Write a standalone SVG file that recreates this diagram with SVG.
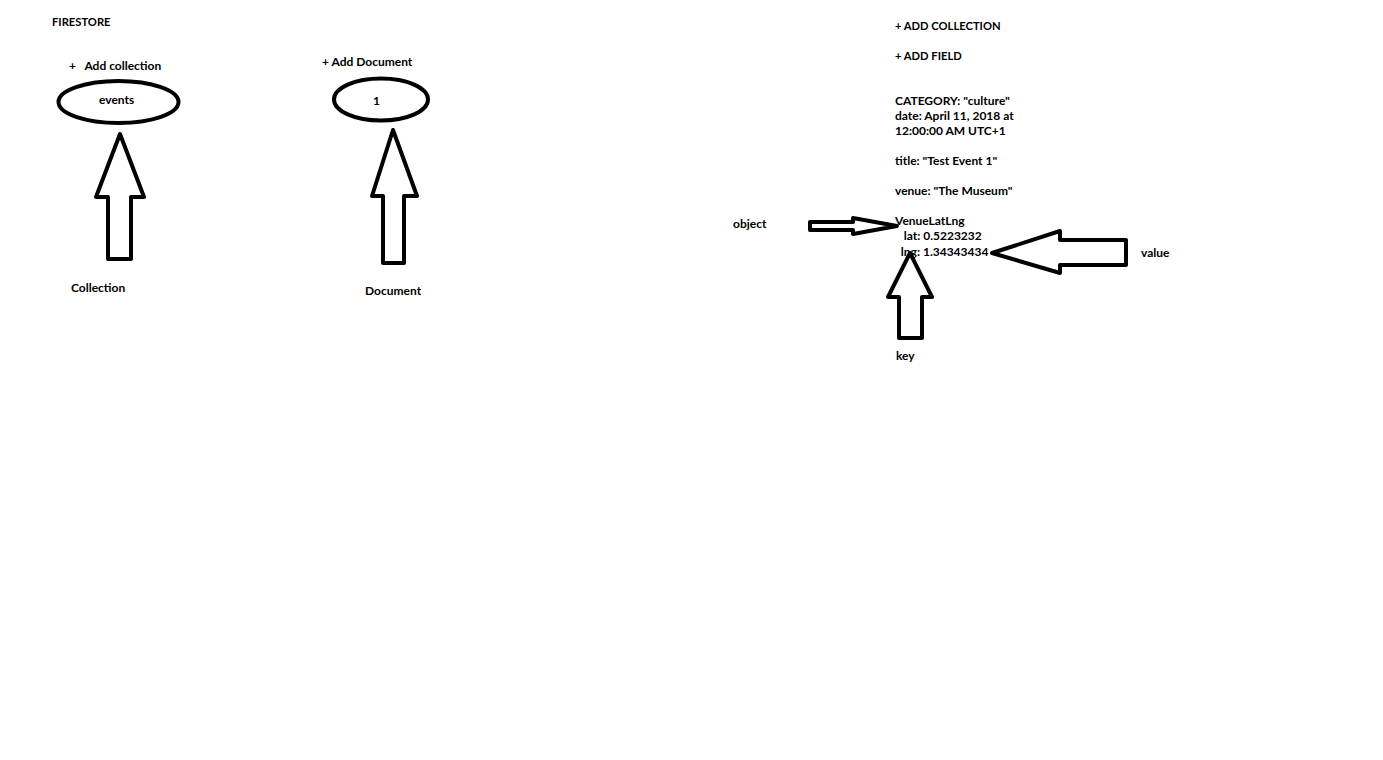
<svg xmlns="http://www.w3.org/2000/svg" width="1383" height="760" viewBox="0 0 1383 760">
<style>
text{font-family:Lato,"Open Sans","Liberation Sans",sans-serif;font-weight:bold;font-size:12px;fill:#000}
.c{font-size:11.2px}
.s{fill:none;stroke:#000;stroke-width:4;stroke-linejoin:round}
</style>
<rect width="1383" height="760" fill="#fff"/>
<g id="title"><text class="c" x="52" y="26">FIRESTORE</text></g>
<g id="collection">
<text x="69" y="70" xml:space="preserve">+  <tspan dx="3">Add collection</tspan></text>
<ellipse class="s" cx="118.5" cy="102" rx="60" ry="21"/>
<text x="99" y="104">events</text>
</g>
<g id="document">
<text x="322" y="66">+ Add Document</text>
<ellipse class="s" cx="381" cy="99.5" rx="47" ry="21"/>
<text x="373" y="105">1</text>
</g>
<g id="fields">
<text class="c" x="895" y="30">+ ADD COLLECTION</text>
<text class="c" x="895" y="60">+ ADD FIELD</text>
<text x="895" y="105">CATEGORY: "culture"</text>
<text x="895" y="120">date: April 11, 2018 at</text>
<text x="895" y="135">12:00:00 AM UTC+1</text>
<text x="895" y="165">title: "Test Event 1"</text>
<text x="895" y="195">venue: "The Museum"</text>
<text x="895" y="225">VenueLatLng</text>
<text x="895" y="240" xml:space="preserve">   lat: 0.5223232</text>
<text x="895" y="256" xml:space="preserve">  lng: 1.34343434</text>
</g>
<g id="labels">
<text x="71" y="292">Collection</text>
<text x="365" y="295">Document</text>
<text x="733" y="228">object</text>
<text x="896" y="360">key</text>
<text x="1141" y="257">value</text>
</g>
<g id="connectors">
<path class="s" d="M120 134 L144 197 L131 197 L131 259 L108 259 L108 197 L96 197 Z"/>
<path class="s" d="M393 130 L417 196 L404 196 L404 263 L383 263 L383 196 L372 196 Z"/>
<path class="s" d="M897 226 L853 234 L853 230 L810 230 L810 222 L853 222 L853 218 Z"/>
<path class="s" d="M910 253 L932 297 L922 297 L922 338 L899 338 L899 297 L888 297 Z"/>
<path class="s" d="M992 253 L1060 231 L1060 240 L1126 240 L1126 265 L1060 265 L1060 273 Z"/>
</g>
</svg>
